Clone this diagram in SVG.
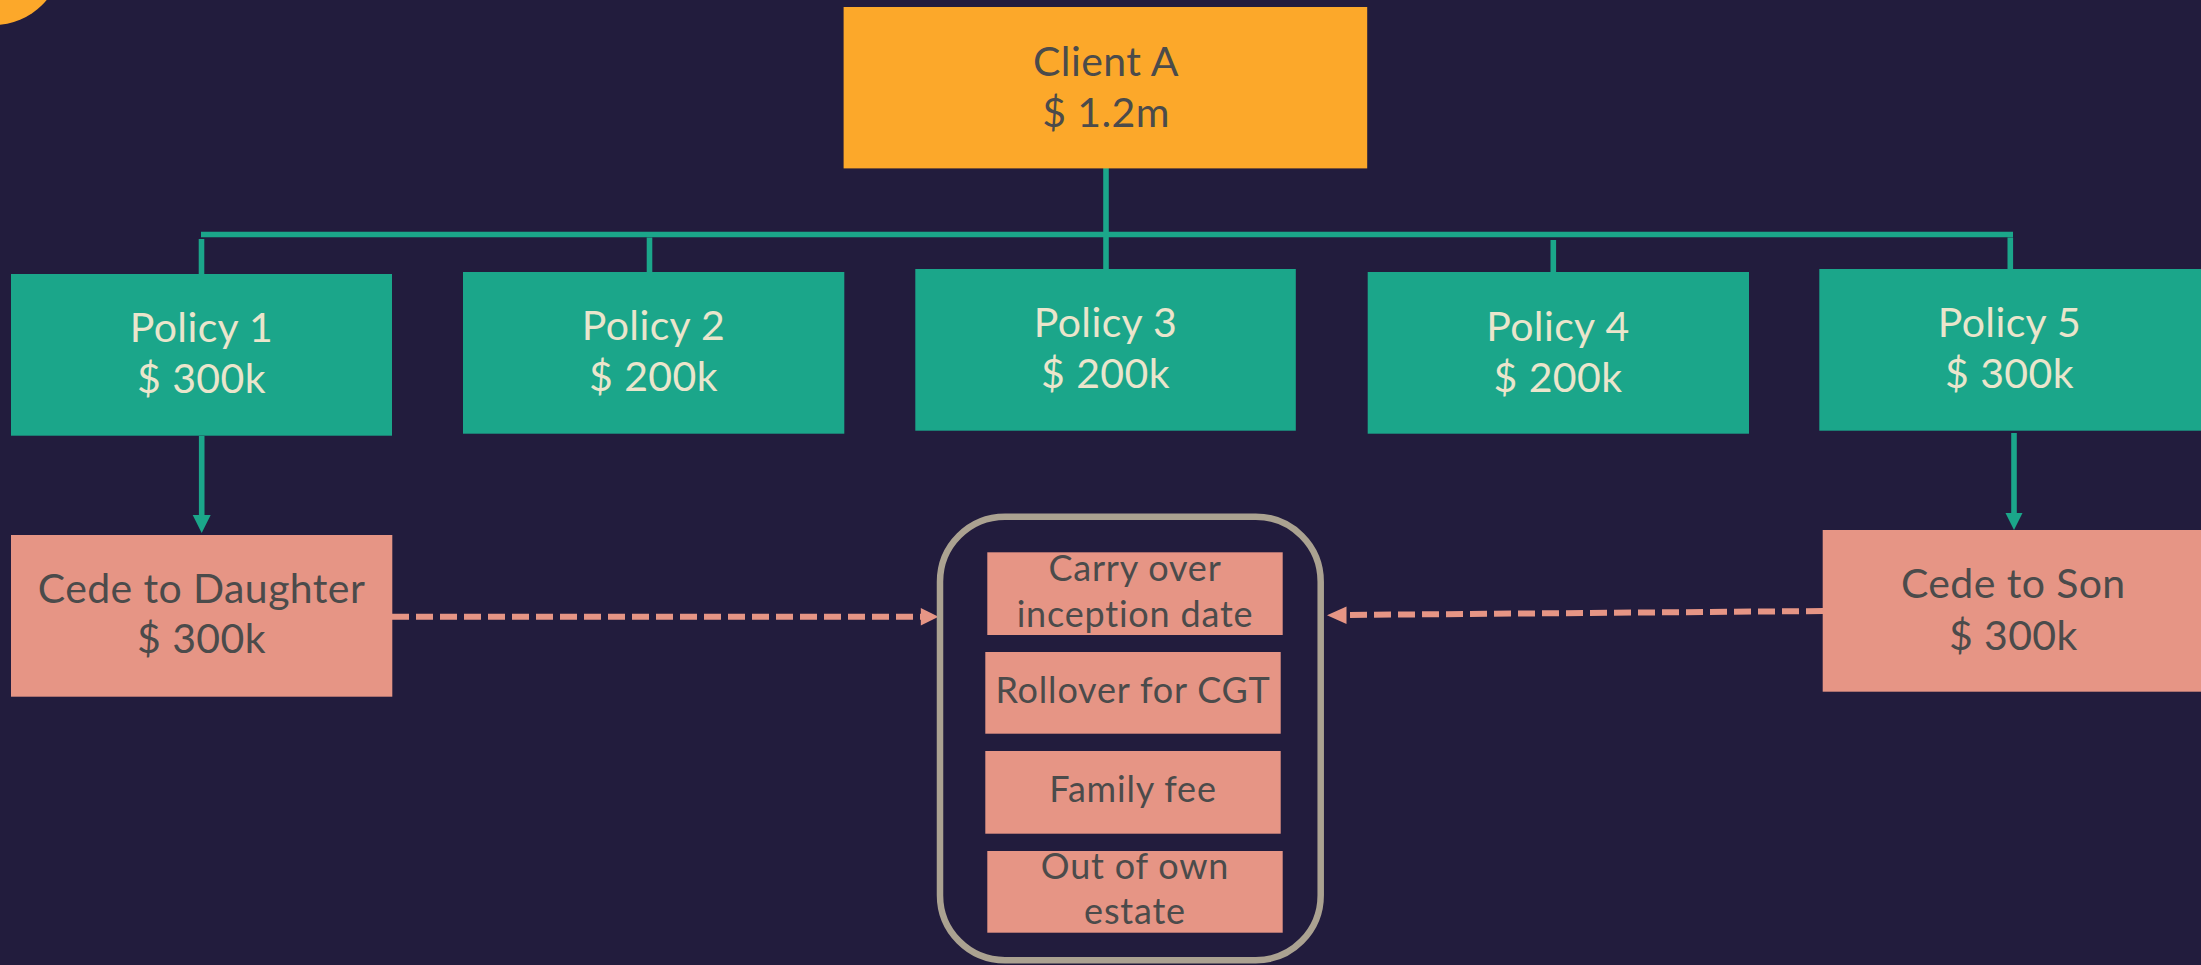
<svg xmlns="http://www.w3.org/2000/svg" width="2201" height="965" viewBox="0 0 2201 965">
  <style>
    .bg { fill: #221C3D; }
    .client { fill: #FCA82A; }
    .policy { fill: #1BA68A; }
    .cede { fill: #E69585; }
    .frame { fill: none; stroke: #ABA291; stroke-width: 6.5; }
    .link { stroke: #1BA68A; stroke-width: 5.6; fill: none; }
    .dash { stroke: #E69585; stroke-width: 6; fill: none; stroke-dasharray: 17 7; }
    .head-teal { fill: #1BA68A; }
    .head-salmon { fill: #E69585; }
    text { font-family: Lato, "Liberation Sans", sans-serif; font-weight: 400; text-anchor: middle; }
    .big { font-size: 41px; letter-spacing: 0.4px; }
    .small { font-size: 36px; letter-spacing: 0.8px; }
    .dark { fill: #4B4B4B; }
    .light { fill: #EAE5CC; }
  </style>

  <rect class="bg" x="0" y="0" width="2201" height="965"/>
  <!-- decorative corner disc -->
  <circle cx="-6" cy="-43" r="68" fill="#FCA82A"/>

  <g id="connectors">
    <!-- trunk from client down through Policy 3 -->
    <line class="link" x1="1106" y1="168" x2="1106" y2="269"/>
    <!-- horizontal bus -->
    <line class="link" x1="201" y1="234.5" x2="2013" y2="234.5"/>
    <!-- drops to policies -->
    <line class="link" x1="201.5" y1="239" x2="201.5" y2="274"/>
    <line class="link" x1="649.5" y1="237.5" x2="649.5" y2="272"/>
    <line class="link" x1="1553.3" y1="240" x2="1553.3" y2="272"/>
    <line class="link" x1="2010.3" y1="237.5" x2="2010.3" y2="269"/>
    <!-- Policy 1 -> Cede to Daughter -->
    <line class="link" x1="201.7" y1="436" x2="201.7" y2="516"/>
    <polygon class="head-teal" points="192.7,515 210.7,515 201.7,533"/>
    <!-- Policy 5 -> Cede to Son -->
    <line class="link" x1="2014" y1="433" x2="2014" y2="514"/>
    <polygon class="head-teal" points="2005.5,513 2022.5,513 2014,530"/>
    <!-- Cede to Daughter -> conditions -->
    <line class="dash" x1="392" y1="616.7" x2="922" y2="616.7"/>
    <polygon class="head-salmon" points="920.8,608 938.5,616.7 920.8,625.4"/>
    <!-- Cede to Son -> conditions -->
    <line class="dash" x1="1823" y1="611" x2="1346" y2="615"/>
    <polygon class="head-salmon" points="1346.5,606.5 1327,615.3 1346.5,624"/>
  </g>

  <g id="client-a">
    <rect class="client" x="843.6" y="7" width="523.6" height="161.4"/>
    <text class="big dark" x="1106" y="75.8">Client A</text>
    <text class="big dark" x="1106" y="126.7">$ 1.2m</text>
  </g>

  <g id="policy-1">
    <rect class="policy" x="11" y="274" width="381" height="161.7"/>
    <text class="big light" x="201.5" y="341.7">Policy 1</text>
    <text class="big light" x="201.5" y="392.7">$ 300k</text>
  </g>
  <g id="policy-2">
    <rect class="policy" x="463" y="272" width="381.3" height="161.7"/>
    <text class="big light" x="653.5" y="340">Policy 2</text>
    <text class="big light" x="653.5" y="390.7">$ 200k</text>
  </g>
  <g id="policy-3">
    <rect class="policy" x="915.3" y="269" width="380.5" height="161.7"/>
    <text class="big light" x="1105.5" y="337.3">Policy 3</text>
    <text class="big light" x="1105.5" y="388.3">$ 200k</text>
  </g>
  <g id="policy-4">
    <rect class="policy" x="1367.7" y="272" width="381.3" height="161.7"/>
    <text class="big light" x="1558" y="340.7">Policy 4</text>
    <text class="big light" x="1558" y="391.7">$ 200k</text>
  </g>
  <g id="policy-5">
    <rect class="policy" x="1819.3" y="269" width="381.7" height="161.7"/>
    <text class="big light" x="2009.5" y="337.3">Policy 5</text>
    <text class="big light" x="2009.5" y="387.7">$ 300k</text>
  </g>

  <g id="cede-daughter">
    <rect class="cede" x="11" y="535" width="381.3" height="161.7"/>
    <text class="big dark" x="201.5" y="602.7">Cede to Daughter</text>
    <text class="big dark" x="201.5" y="653.3">$ 300k</text>
  </g>
  <g id="cede-son">
    <rect class="cede" x="1822.7" y="530" width="381" height="161.7"/>
    <text class="big dark" x="2013.3" y="598.3">Cede to Son</text>
    <text class="big dark" x="2013.3" y="650">$ 300k</text>
  </g>

  <g id="conditions">
    <rect class="frame" x="940" y="516.7" width="380.7" height="443.5" rx="65" ry="65"/>
    <g id="carry-over">
      <rect class="cede" x="987.3" y="552.3" width="295.4" height="82.7"/>
      <text class="small dark" x="1135" y="581">Carry over</text>
      <text class="small dark" x="1135" y="626.7">inception date</text>
    </g>
    <g id="rollover">
      <rect class="cede" x="985.3" y="652" width="295.4" height="81.7"/>
      <text class="small dark" x="1133" y="703.3">Rollover for CGT</text>
    </g>
    <g id="family-fee">
      <rect class="cede" x="985.3" y="751" width="295.4" height="82.7"/>
      <text class="small dark" x="1133" y="802.3">Family fee</text>
    </g>
    <g id="own-estate">
      <rect class="cede" x="987.3" y="851" width="295.4" height="81.7"/>
      <text class="small dark" x="1135" y="879.3">Out of own</text>
      <text class="small dark" x="1135" y="924.3">estate</text>
    </g>
  </g>
</svg>
